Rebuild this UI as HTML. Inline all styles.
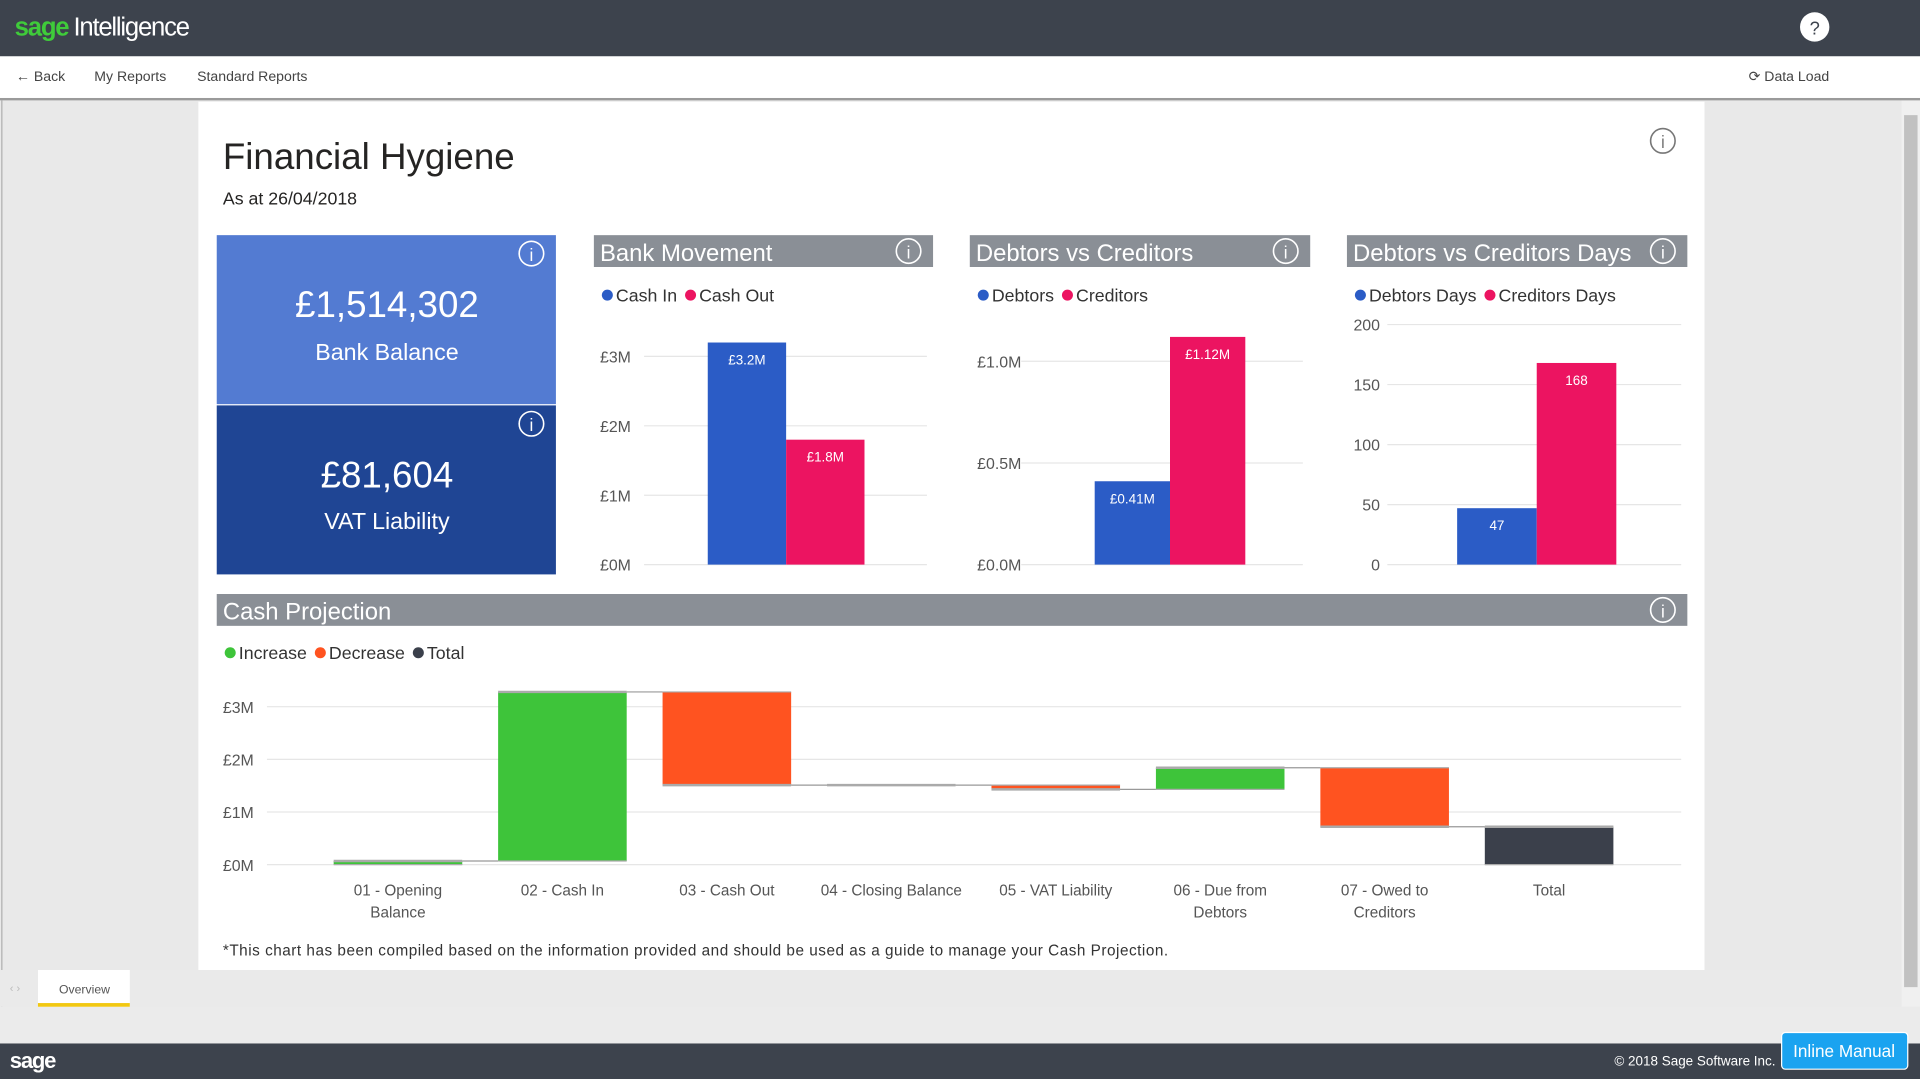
<!DOCTYPE html>
<html><head><meta charset="utf-8">
<style>
html,body{margin:0;padding:0;width:1920px;height:1079px;overflow:hidden;background:#ebebeb;}
#root{width:1568px;height:881px;transform:scale(1.22449,1.22474);transform-origin:0 0;position:relative;font-family:"Liberation Sans",sans-serif;}
svg text{font-family:"Liberation Sans",sans-serif;}
</style></head>
<body>
<div id="root">
<svg id="main" width="1568" height="881" viewBox="0 0 1568 881" xmlns="http://www.w3.org/2000/svg">
 <rect x="0" y="0" width="1568" height="46" fill="#3d434d"/>
 <text x="12" y="29" font-size="21" fill="#3fcb3a" font-weight="bold" letter-spacing="-1">sage</text>
 <text x="60" y="29" font-size="21" fill="#fff" letter-spacing="-1">Intelligence</text>
 <g><circle cx="1482" cy="22" r="12" fill="#fff"/><text x="1482" y="28" font-size="15" text-anchor="middle" fill="#3d434d">?</text></g>
 <rect x="0" y="46" width="1568" height="35" fill="#fff"/>
 <rect x="0" y="80" width="1568" height="2" fill="#9a9a9a"/>
 <text x="13" y="66" font-size="11.5" fill="#444">← Back</text>
 <text x="77" y="66" font-size="11.5" fill="#444">My Reports</text>
 <text x="161" y="66" font-size="11.5" fill="#444">Standard Reports</text>
 <text x="1428" y="66" font-size="11.5" fill="#444">⟳ Data Load</text>
 <rect x="0" y="82" width="1553" height="740" fill="#e9e9e9"/>
 <rect x="1" y="82" width="1" height="740" fill="#b0b0b0"/>
 <rect x="162" y="83" width="1230" height="709" fill="#fff"/>
 <rect x="1553" y="82" width="15" height="740" fill="#f0f0f0"/>
 <rect x="1555" y="94" width="11" height="712" fill="#c1c1c1"/>
 <rect x="0" y="792" width="1553" height="30" fill="#eaeaea"/>
 <text x="8" y="810" font-size="9" fill="#bbb">‹ ›</text>
 <rect x="31" y="792" width="75" height="30" fill="#fff"/>
 <rect x="31" y="819" width="75" height="3" fill="#f2c811"/>
 <text x="69" y="811" font-size="10" fill="#555" text-anchor="middle">Overview</text>
 <rect x="0" y="852" width="1568" height="29" fill="#3d434d"/>
 <text x="8" y="872" font-size="18" fill="#fff" font-weight="bold" letter-spacing="-1">sage</text>
 <text x="1450" y="870" font-size="11" fill="#fff" text-anchor="end">© 2018 Sage Software Inc.</text>
 <g><rect x="1455" y="843" width="103" height="30" rx="3" fill="#1aa3f0" stroke="#fff"/><text x="1506" y="863" font-size="14" fill="#fff" text-anchor="middle">Inline Manual</text></g>

 <text x="182" y="138" font-size="30" fill="#252423">Financial Hygiene</text>
 <text x="182" y="167" font-size="14.5" fill="#252423">As at 26/04/2018</text>
 <g><circle cx="1358" cy="115" r="10" fill="none" stroke="#777" stroke-width="1.3"/><text x="1358" y="121" font-size="14" fill="#777" text-anchor="middle">i</text></g>

 <g>
  <rect x="177" y="192" width="277" height="138" fill="#537bd2"/>
  <circle cx="434" cy="207" r="10" fill="none" stroke="#fff" stroke-width="1.3"/><text x="434" y="213" font-size="14" fill="#fff" text-anchor="middle">i</text>
  <text x="316" y="259" font-size="30" fill="#fff" text-anchor="middle">£1,514,302</text>
  <text x="316" y="294" font-size="19" fill="#fff" text-anchor="middle">Bank Balance</text>
 </g>
 <g>
  <rect x="177" y="331" width="277" height="138" fill="#1f4594"/>
  <circle cx="434" cy="346" r="10" fill="none" stroke="#fff" stroke-width="1.3"/><text x="434" y="352" font-size="14" fill="#fff" text-anchor="middle">i</text>
  <text x="316" y="398" font-size="30" fill="#fff" text-anchor="middle">£81,604</text>
  <text x="316" y="432" font-size="19" fill="#fff" text-anchor="middle">VAT Liability</text>
 </g>
 <g id="charts"></g>
 <text x="182" y="780" font-size="12.5" fill="#333" textLength="772">*This chart has been compiled based on the information provided and should be used as a guide to manage your Cash Projection.</text>
</svg>
</div>
<script>
const NS="http://www.w3.org/2000/svg";
const bankCats=["Cash In","Cash Out"];
const bankVals=[3.2,1.8];
const bankLabels=["£3.2M","£1.8M"];
const bankTicks=[0,1,2,3];
const bankTickLabels=["£0M","£1M","£2M","£3M"];
const debtCats=["Debtors","Creditors"];
const debtVals=[0.41,1.12];
const debtLabels=["£0.41M","£1.12M"];
const debtTicks=[0,0.5,1.0];
const debtTickLabels=["£0.0M","£0.5M","£1.0M"];
const daysCats=["Debtors Days","Creditors Days"];
const daysVals=[47,168];
const daysLabels=["47","168"];
const daysTicks=[0,50,100,150,200];
const daysTickLabels=["0","50","100","150","200"];
const wfCats=[["01 - Opening","Balance"],["02 - Cash In"],["03 - Cash Out"],["04 - Closing Balance"],["05 - VAT Liability"],["06 - Due from","Debtors"],["07 - Owed to","Creditors"],["Total"]];
const wfDeltas=[0.07,3.21,-1.77,0,-0.08,0.41,-1.12];
const wfTicks=[0,1,2,3];
const wfTickLabels=["£0M","£1M","£2M","£3M"];
const COLORS=["#2b5cc6","#ec1461"];
const g=document.getElementById('charts');
function el(tag,attrs,parent,txt){const e=document.createElementNS(NS,tag);for(const k in attrs)e.setAttribute(k,attrs[k]);if(txt!==undefined)e.textContent=txt;(parent||g).appendChild(e);return e;}
function header(x,w,y,title,name){
 const hg=el('g',{});
 
 
 el('rect',{x:x,y:y,width:w,height:26,fill:'#8a8f96'},hg);
 el('text',{x:x+5,y:y+21,'font-size':19.5,fill:'#fff'},hg,title);
 const ic=el('g',{},hg);
 
 
 el('circle',{cx:x+w-20,cy:y+13,r:10,fill:'none',stroke:'#fff','stroke-width':1.3},ic);
 el('text',{x:x+w-20,y:y+19,'font-size':14,fill:'#fff','text-anchor':'middle'},ic,'i');
}
function legend(x,y,items,colors,name){
 const lg=el('g',{});
 
 
 let cx=x;
 items.forEach((t,i)=>{
  const it=el('g',{},lg);
  
  
  el('circle',{cx:cx+5,cy:y-5,r:4.5,fill:colors[i]},it);
  const tx=el('text',{x:cx+12,y:y,'font-size':14.5,fill:'#333'},it,t);
  cx+=12+tx.getComputedTextLength()+6;
 });
}
function barChart(o){
 header(o.hx,o.hw,192,o.title,o.name+'-header');
 legend(o.hx+6,246,o.cats,COLORS,o.name+'-legend');
 const y=v=>o.y0-(v/o.max)*(o.y0-o.yTop);
 const cg=el('g',{});
 
 
 o.ticks.forEach((t,i)=>{
  el('line',{x1:o.gx1,x2:o.gx2,y1:y(t),y2:y(t),stroke:'#e6e6e6','stroke-width':1},cg);
  const lb=el('text',{x:o.lx,y:y(t)+5,'font-size':13,fill:'#555','text-anchor':o.anchor},cg,o.tickLabels[i]);
  
  
 });
 o.vals.forEach((v,i)=>{
  const bx=o.bx+i*o.bw;
  const r=el('rect',{x:bx,y:y(v),width:o.bw,height:o.y0-y(v),fill:COLORS[i]},cg);
  
  
  const t=el('text',{x:bx+o.bw/2,y:y(v)+18,'font-size':11,fill:'#fff','text-anchor':'middle'},cg,o.labels[i]);
  
  
 });
}
barChart({name:'bank-movement',title:'Bank Movement',hx:485,hw:277,cats:bankCats,vals:bankVals,labels:bankLabels,ticks:bankTicks,tickLabels:bankTickLabels,max:3,y0:461,yTop:291,gx1:526,gx2:757,lx:490,anchor:'start',bx:578,bw:64});
barChart({name:'debtors-vs-creditors',title:'Debtors vs Creditors',hx:792,hw:278,cats:debtCats,vals:debtVals,labels:debtLabels,ticks:debtTicks,tickLabels:debtTickLabels,max:1,y0:461,yTop:295,gx1:834,gx2:1064,lx:798,anchor:'start',bx:894,bw:61.5});
barChart({name:'debtors-vs-creditors-days',title:'Debtors vs Creditors Days',hx:1100,hw:278,cats:daysCats,vals:daysVals,labels:daysLabels,ticks:daysTicks,tickLabels:daysTickLabels,max:200,y0:461,yTop:265,gx1:1133,gx2:1373,lx:1127,anchor:'end',bx:1190,bw:65});

header(177,1201,485,'Cash Projection','cash-projection-header');
legend(183,538,["Increase","Decrease","Total"],["#3ec43a","#ff5320","#3b404b"],'cash-projection-legend');
(function(){
 const y0=706, per=43;
 const y=v=>y0-v*per;
 const cw=134.3, c0=325, bw=105;
 const wg=el('g',{});
 
 
 wfTicks.forEach((t,i)=>{
  el('line',{x1:218,x2:1373,y1:y(t),y2:y(t),stroke:'#e6e6e6'},wg);
  const lb=el('text',{x:182,y:y(t)+5,'font-size':13,fill:'#555'},wg,wfTickLabels[i]);
  
  
 });
 let run=0;
 const n=wfCats.length;
 for(let i=0;i<n;i++){
  const cx=c0+i*cw, x=cx-bw/2;
  let a,b,col;
  if(i===n-1){a=0;b=run;col="#3b404b";}
  else{a=run;b=run+wfDeltas[i];col=wfDeltas[i]>=0?"#3ec43a":"#ff5320";}
  const top=Math.max(a,b), bot=Math.min(a,b);
  const r=el('rect',{x:x,y:y(top),width:bw,height:Math.max(y(bot)-y(top),0),fill:col},wg);
  
  
  el('line',{x1:x,x2:x+bw,y1:y(b),y2:y(b),stroke:'#aaa','stroke-width':2},wg);
  el('line',{x1:x,x2:x+bw,y1:y(a),y2:y(a),stroke:'#aaa','stroke-width':1},wg);
  if(i<n-1){
   el('line',{x1:x+bw,x2:x+cw,y1:y(b),y2:y(b),stroke:'#999','stroke-width':1},wg);
  }
  run=(i===n-1)?run:b;
  wfCats[i].forEach((ln,j)=>{
   const t=el('text',{x:cx,y:731+j*18,'font-size':12.5,fill:'#555','text-anchor':'middle'},wg,ln);
   
   
  });
 }
})();
</script>
</body></html>
